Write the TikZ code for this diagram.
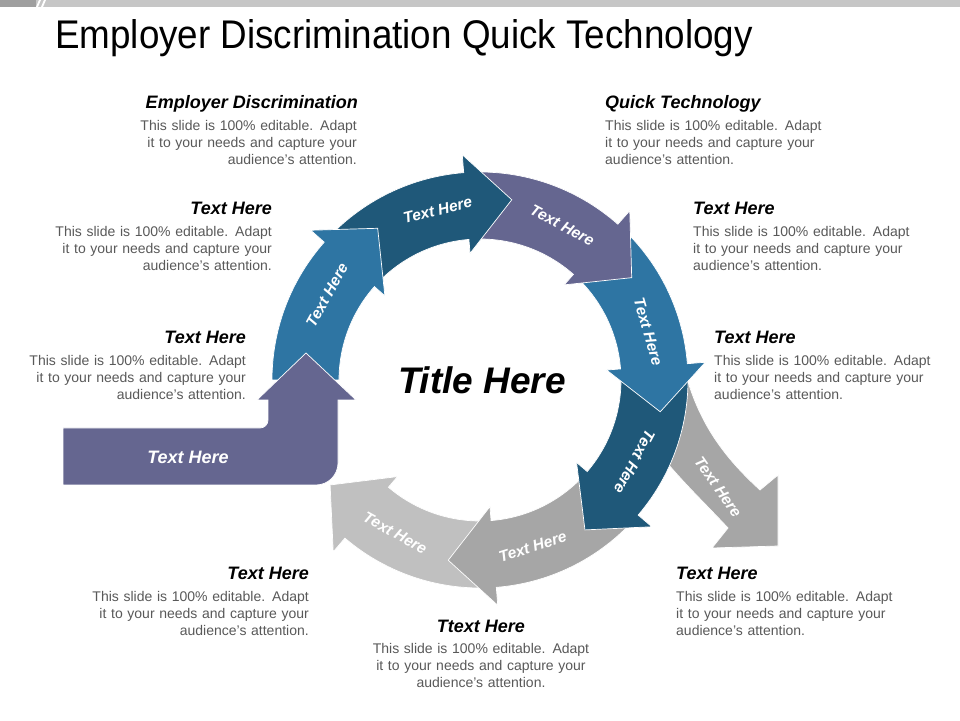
\documentclass[tikz,border=0pt]{standalone}
\usepackage{fontspec}
\setmainfont{Liberation Sans}
\usetikzlibrary{calc}
\definecolor{cpur}{RGB}{101,102,144}
\definecolor{cblue}{RGB}{46,117,163}
\definecolor{cdark}{RGB}{31,88,121}
\definecolor{cgray}{RGB}{166,166,166}
\definecolor{clgray}{RGB}{192,192,192}
\definecolor{cbody}{RGB}{89,89,89}
\tikzset{
  arr/.style={draw=white,line width=0.7pt,line join=miter},
  lab/.style={text=white,font=\fontsize{15.5}{15.5}\selectfont\bfseries\itshape,inner sep=0},
  head/.style={font=\fontsize{18}{18}\selectfont\bfseries\itshape,inner sep=0},
  bodyr/.style={font=\fontsize{14}{17.2}\selectfont,text=cbody,inner sep=0,align=right,text width=260pt,anchor=north east},
  bodyl/.style={font=\fontsize{14}{17.2}\selectfont,text=cbody,inner sep=0,align=left,text width=260pt,anchor=north west},
}
\newcommand\ringarrow[7]{%
  \pgfmathsetmacro\hb{#3+14.5}%
  \path[arr,fill=#1] ($(C)+(#2:208)$) arc[start angle=#2,end angle=\hb,radius=208pt]
    -- ($(C)+(\hb:226)$) -- ($(C)+(#3:183)$) -- ($(C)+(\hb:127)$) -- ($(C)+(\hb:141)$)
    arc[start angle=\hb,end angle=#2,radius=141pt] -- cycle;
  \node[lab,rotate=#5] (#7) at ($(C)+(#4:#6)$) {Text Here};}
\begin{document}
\begin{tikzpicture}[x=1pt,y=1pt]
\useasboundingbox (0,0) rectangle (960,720);
\fill[white] (0,0) rectangle (960,720);
\coordinate (C) at (480,340);
% top bar
\fill[gray!45] (0,713) rectangle (960,720);
\fill[gray!75] (0,713) rectangle (36,720);
\fill[white] (36,713) -- (38,713) -- (41,720) -- (39,720) -- cycle;
\fill[white] (41,713) -- (43,713) -- (46,720) -- (44,720) -- cycle;
\node[anchor=base west,inner sep=0,font=\fontsize{40}{40}\selectfont] (title) at (55,671) {\scalebox{0.92}[1]{Employer Discrimination Quick Technology}};
% gray outward arrow
\path[arr,fill=cgray] (686,345) .. controls (700,295) and (725,262) .. (760,230) -- (778,245) -- (778,174) -- (712,172) -- (728,192) .. controls (700,222) and (668,252) .. (650,280) -- (640,345) -- cycle;
\node[lab,rotate=-55] (lg) at (718,233) {Text Here};
% ring arrows (drawn last-to-first)
\ringarrow{clgray}{-85}{-145}{-119}{-29}{175}{l7}
\ringarrow{cgray}{-40}{-100}{-72.5}{17.5}{175}{l6}
\ringarrow{cdark}{5}{-55}{-28}{-118}{175}{l5}
\ringarrow{cblue}{50}{-10}{16}{-74}{175}{l4}
\ringarrow{cpur}{95}{34}{62}{-28}{175}{l3}
\ringarrow{cdark}{140}{80}{104}{14}{175}{l2}
\ringarrow{cblue}{180}{124}{151}{61}{175}{l1}
% L arrow
\path[arr,fill=cpur] (63,292) -- (63,235) -- (316,235) arc[start angle=-90,end angle=0,radius=22pt] -- (338,320) -- (356,320) -- (306,367) -- (257,320) -- (268,320) -- (268,300) arc[start angle=0,end angle=-90,radius=8pt] -- cycle;
\node[lab,font=\fontsize{18}{18}\selectfont\bfseries\itshape] (l0) at (188,263) {Text Here};
\node[font=\fontsize{37}{37}\selectfont\bfseries\itshape,inner sep=0] (th) at (482,340) {Title Here};
% texts
\newcommand\bt{This slide is 100\% editable. Adapt\\ it to your needs and capture your\\ audience's attention.}
\node[head,anchor=base east] (h1) at (358,611) {Employer Discrimination};
\node[bodyr] (b1) at (357,600) {\bt};
\node[head,anchor=base east] (h2) at (272,505) {Text Here};
\node[bodyr] (b2) at (272,494) {\bt};
\node[head,anchor=base east] (h3) at (246,376) {Text Here};
\node[bodyr] (b3) at (246,365) {\bt};
\node[head,anchor=base east] (h4) at (309,140) {Text Here};
\node[bodyr] (b4) at (309,129) {\bt};
\node[head,anchor=base] (h5) at (481,88) {Ttext Here};
\node[bodyr,align=center,anchor=north,text width=240pt] (b5) at (481,77) {\bt};
\node[head,anchor=base west] (h6) at (676,140) {Text Here};
\node[bodyl] (b6) at (676,129) {\bt};
\node[head,anchor=base west] (h7) at (714,376) {Text Here};
\node[bodyl] (b7) at (714,365) {\bt};
\node[head,anchor=base west] (h8) at (693,505) {Text Here};
\node[bodyl] (b8) at (693,494) {\bt};
\node[head,anchor=base west] (h9) at (605,611) {Quick Technology};
\node[bodyl] (b9) at (605,600) {\bt};
\end{tikzpicture}
\end{document}
